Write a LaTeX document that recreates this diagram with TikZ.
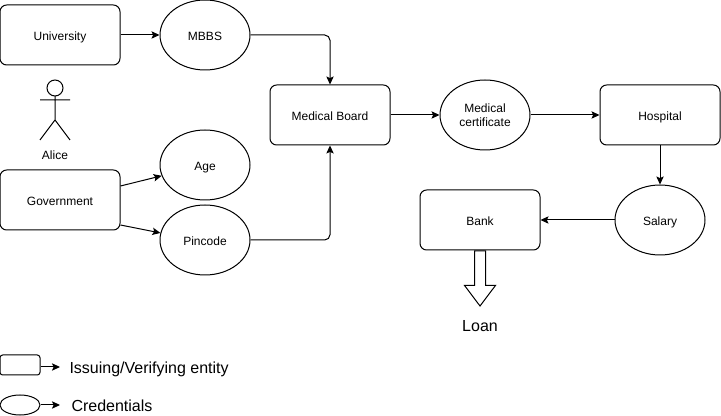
\documentclass[tikz,border=0pt]{standalone}
\usepackage{fontspec}
\setmainfont{Liberation Sans}
\usepackage{xcolor}
\usetikzlibrary{arrows.meta, shapes.geometric, shapes.arrows}
\definecolor{themeink}{RGB}{0, 0, 0}
\tikzset{
    entity/.style={draw=themeink, rounded corners=5pt, minimum width=90pt, minimum height=45pt, inner sep=0pt, text height=8pt, text depth=0pt, font=\fontsize{9}{10.5}\selectfont},
    credential/.style={draw=themeink, ellipse, minimum width=67.5pt, minimum height=52.5pt, inner sep=0pt, align=center, text height=8pt, text depth=0pt, font=\fontsize{9}{10.5}\selectfont},
    legendtext/.style={anchor=west, inner sep=0pt, font=\fontsize{12}{14}\selectfont}
}

\begin{document}
\begin{tikzpicture}[x=0.75pt, y=-0.75pt, line width=0.75pt, >={Stealth[length=6pt, width=5.5pt, inset=1.2pt]}]
    \useasboundingbox[fill=white] (0,0) rectangle (721,416);

    \node[entity] (university) at (60,35) {University};
    \node[credential] (mbbs) at (205,35) {MBBS};
    \node[entity] (government) at (60,200) {Government};
    \node[credential] (age) at (205,165) {Age};
    \node[credential] (pincode) at (205,240) {Pincode};
    \node[entity] (board) at (330,115) {Medical Board};
    \node[credential, text height=18pt] (certificate) at (485,115) {Medical\\certificate};
    \node[entity] (hospital) at (660,115) {Hospital};
    \node[credential] (salary) at (660,220) {Salary};
    \node[entity] (bank) at (480,220) {Bank};

    \draw[->] (university) -- (mbbs);
    \draw[->, rounded corners=4pt] (mbbs) -| (board);
    \draw[->] ([yshift=10.5pt]government.east) -- (age.194);
    \draw[->] ([yshift=-18.75pt]government.east) -- (pincode.171);
    \draw[->, rounded corners=4pt] (pincode) -| (board);
    \draw[->] (board) -- (certificate);
    \draw[->] (certificate) -- (hospital);
    \draw[->] (hospital) -- (salary);
    \draw[->] (salary) -- (bank);

    % actor
    \draw (55,88) circle (8);
    \draw (55,96) -- (55,120) (40,100) -- (70,100) (40,140) -- (55,120) -- (70,140);
    \node[font=\fontsize{9}{10.5}\selectfont] (alice) at (55,155) {Alice};

    % loan arrow
    \node[draw, single arrow, shape border rotate=270, anchor=tail, inner sep=3.75pt,
        minimum height=41.25pt, minimum width=22.5pt, single arrow head extend=7.5pt,
        single arrow tip angle=74] (loanarrow) at (bank.south) {};
    \node[font=\fontsize{12}{14}\selectfont] (loan) at (480,326) {Loan};

    % legend
    \node[draw, rounded corners=2pt, minimum width=30pt, minimum height=15pt, inner sep=0pt] (legendbox) at (20,365) {};
    \node[draw, ellipse, minimum width=30pt, minimum height=15pt, inner sep=0pt] (legendellipse) at (20,405) {};
    \coordinate (boxend) at (60,367);
    \coordinate (ellipseend) at (60,405);
    \draw[->] (legendbox.east |- boxend) -- (boxend);
    \draw[->] (legendellipse) -- (ellipseend);
    \node[legendtext] (issuing) at (69,369) {Issuing/Verifying entity};
    \node[legendtext] (credentials) at (71,406) {Credentials};
\end{tikzpicture}
\end{document}
